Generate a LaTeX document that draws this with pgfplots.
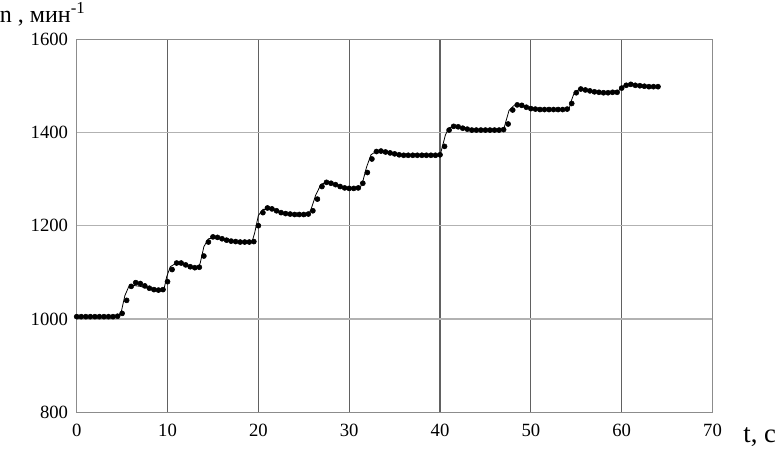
\documentclass[border=0pt]{standalone}
\usepackage{fontspec}
\setmainfont{Liberation Serif}
\usepackage{pgfplots}
\pgfplotsset{compat=1.18}

% measured values (markers)
\pgfplotstableread{
t n
0.0 1005
0.5 1005
1.0 1005
1.5 1005
2.0 1005
2.5 1005
3.0 1005
3.5 1005
4.0 1005
4.5 1006
5.0 1012
5.5 1040
6.0 1070
6.5 1078
7.0 1076
7.5 1071
8.0 1066
8.5 1063
9.0 1062
9.5 1063
10.0 1080
10.5 1106
11.0 1120
11.5 1120
12.0 1116
12.5 1112
13.0 1110
13.5 1111
14.0 1135
14.5 1165
15.0 1176
15.5 1175
16.0 1172
16.5 1169
17.0 1167
17.5 1166
18.0 1165
18.5 1165
19.0 1165
19.5 1166
20.0 1200
20.5 1228
21.0 1238
21.5 1236
22.0 1232
22.5 1228
23.0 1226
23.5 1225
24.0 1224
24.5 1224
25.0 1224
25.5 1225
26.0 1232
26.5 1257
27.0 1284
27.5 1293
28.0 1291
28.5 1288
29.0 1284
29.5 1281
30.0 1280
30.5 1280
31.0 1281
31.5 1291
32.0 1314
32.5 1343
33.0 1359
33.5 1360
34.0 1358
34.5 1356
35.0 1354
35.5 1352
36.0 1351
36.5 1351
37.0 1351
37.5 1351
38.0 1351
38.5 1351
39.0 1351
39.5 1351
40.0 1352
40.5 1370
41.0 1405
41.5 1413
42.0 1412
42.5 1409
43.0 1407
43.5 1405
44.0 1405
44.5 1405
45.0 1405
45.5 1405
46.0 1405
46.5 1405
47.0 1406
47.5 1418
48.0 1448
48.5 1459
49.0 1458
49.5 1454
50.0 1451
50.5 1450
51.0 1449
51.5 1449
52.0 1449
52.5 1449
53.0 1449
53.5 1449
54.0 1450
54.5 1462
55.0 1485
55.5 1493
56.0 1491
56.5 1489
57.0 1487
57.5 1486
58.0 1485
58.5 1485
59.0 1486
59.5 1486
60.0 1495
60.5 1501
61.0 1503
61.5 1501
62.0 1500
62.5 1499
63.0 1498
63.5 1498
64.0 1498
}\measured

% model curve (thin line)
\pgfplotstableread{
t n
0.0 1005
4.6 1005
4.9 1015
5.3 1050
5.7 1068
6.2 1072
7.0 1070
8.0 1065
9.0 1062
9.6 1063
9.9 1090
10.3 1112
10.8 1118
11.5 1117
12.5 1112
13.4 1110
13.6 1120
14.0 1155
14.5 1172
15.2 1174
16.0 1171
17.0 1167
18.0 1165
19.3 1165
19.6 1185
20.0 1222
20.5 1235
21.2 1235
22.0 1231
23.0 1226
24.0 1224
25.5 1224
25.8 1235
26.3 1265
26.9 1289
27.4 1292
28.2 1290
29.0 1284
30.0 1280
31.2 1281
31.5 1295
31.9 1325
32.4 1352
33.0 1360
33.8 1359
35.0 1354
36.0 1351
40.0 1351
40.2 1365
40.6 1395
41.0 1410
41.6 1413
42.5 1409
43.5 1405
47.0 1405
47.2 1420
47.6 1447
48.1 1457
48.8 1458
49.8 1452
51.0 1449
54.2 1449
54.4 1465
54.8 1486
55.3 1492
56.0 1491
57.0 1487
58.0 1485
59.6 1486
59.8 1494
60.3 1501
61.0 1502
62.0 1500
63.0 1498
64.0 1498
}\model

\begin{document}
\begin{tikzpicture}
\begin{axis}[
  scale only axis,
  width=477pt, height=280pt,
  xmin=0, xmax=70, ymin=800, ymax=1600,
  xtick={0,10,...,70},
  ytick={800,1000,...,1600},
  major tick length=0pt,
  xmajorgrids, ymajorgrids,
  x grid style={black!62, line width=0.9pt},
  y grid style={black!30, line width=0.9pt},
  axis line style={black!45, line width=0.8pt},
  tick label style={font=\fontsize{14}{16}\selectfont},
  xticklabel style={yshift=-5pt},
  yticklabel style={xshift=-3pt},
  /pgf/number format/assume math mode=true,
  /pgf/number format/set thousands separator={},
  clip=false,
]
\addplot[black, line width=0.6pt] table[x=t, y=n] {\model};
\addplot[only marks, mark=*, mark size=1.9pt, black] table[x=t, y=n] {\measured};

\node[anchor=base west, inner xsep=0pt, inner ysep=2pt, font=\fontsize{18}{20}\selectfont]
  at (rel axis cs:0,1) [xshift=-57.75pt, yshift=12.75pt] {n , мин\textsuperscript{-1}};
\node[anchor=base west, inner xsep=0pt, inner ysep=1pt, font=\fontsize{20}{22}\selectfont]
  at (rel axis cs:1,0) [xshift=23pt, yshift=-23pt] {t, c};
\end{axis}
\end{tikzpicture}
\end{document}
